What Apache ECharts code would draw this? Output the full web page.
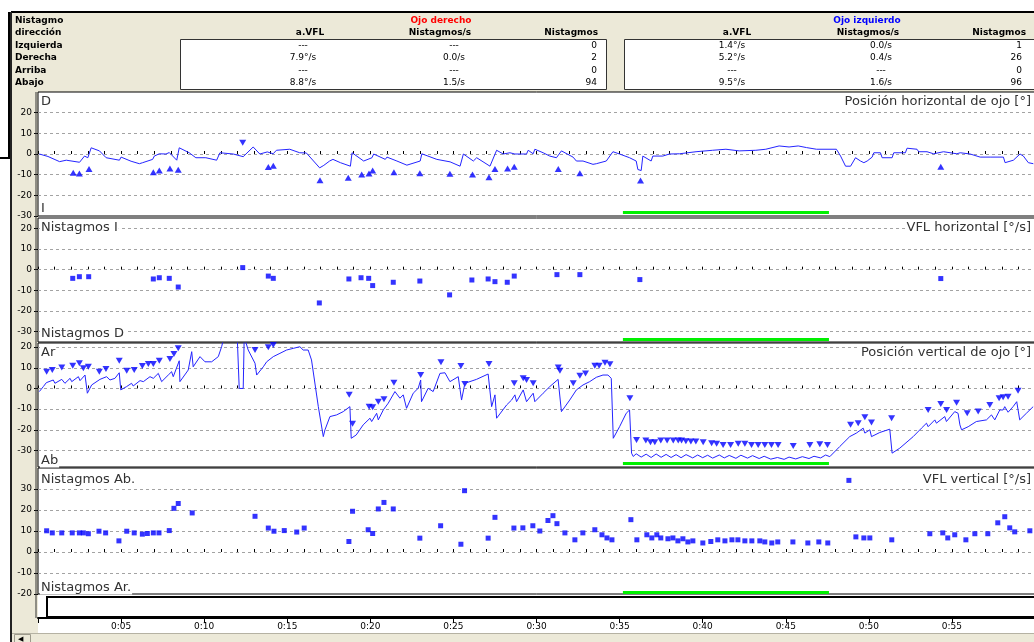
<!DOCTYPE html>
<html>
<head>
<meta charset="utf-8">
<script src="https://cdn.jsdelivr.net/npm/echarts@6.0.0/dist/echarts.min.js"></script>
<style>
  html, body { margin: 0; padding: 0; background: #fff; }
  #wrap { position: relative; width: 1034px; height: 642px; overflow: hidden; }
  .bg { position: absolute; background: #ece9d8; }
  #chart { position: absolute; left: 0; top: 0; width: 1034px; height: 642px; }
</style>
</head>
<body>
<div id="wrap">
  <div class="bg" style="left:12px;top:12px;width:1022px;height:80px"></div>
  <div class="bg" style="left:12px;top:92px;width:26px;height:550px"></div>
  <div class="bg" style="left:12px;top:633px;width:1022px;height:9px"></div>
  <div id="chart"></div>
</div>
<script>
// ---- table header ----
const rowLabels = ["Nistagmo", "dirección", "Izquierda", "Derecha", "Arriba", "Abajo"];
const rightAvfl = ["---", "7.9°/s", "---", "8.8°/s"];
const rightRate = ["---", "0.0/s", "---", "1.5/s"];
const rightCount = ["0", "2", "0", "94"];
const leftAvfl = ["1.4°/s", "5.2°/s", "---", "9.5°/s"];
const leftRate = ["0.0/s", "0.4/s", "---", "1.6/s"];
const leftCount = ["1", "26", "0", "96"];

// ---- axes ----
const yRanges = [[-30, 30], [-35, 25], [-38, 22], [-20, 40]];
const yTicks = [
  [-30, -20, -10, 0, 10, 20],
  [-30, -20, -10, 0, 10, 20],
  [-30, -20, -10, 0, 10, 20],
  [-20, -10, 0, 10, 20, 30]
];
const greenSpan = [35.2, 47.6];       // s
const greenLevel = [-28.4, -33.5, -36.3, -19];

// ---- panel 1: horizontal eye position [°] ----
const hPos = [[0.08,0],[0.6,-1.2],[1.3,-3.7],[1.7,-3],[2.5,-4],[2.8,-1],[3.0,-1.8],[3.2,3],[3.7,1.5],[4.1,-1.8],
  [4.9,-3],[5.0,-1.5],[5.6,-3.5],[6.1,-4.7],[6.3,-4.2],[6.9,-2.6],[7.0,-1],[7.3,0.1],[7.7,0],[7.9,0.7],
  [8.35,-3],[8.5,3],[9.1,0.6],[9.5,-1.8],[10.1,-1.8],[10.75,-3],[10.95,0.6],[11.75,0],[12.35,-1.3],[12.95,3.4],
  [13.35,0],[13.8,1],[14.15,0.1],[14.35,1.8],[15.15,2.3],[15.75,0.6],[16.15,0.5],[16.95,-6.7],[17.2,-5.5],[17.55,-3.4],
  [17.75,-2.6],[18.2,-4.2],[18.8,-5.9],[18.9,0.6],[19.6,-3.4],[20.1,-1.8],[20.2,0],[20.9,-2.6],[21.0,-1.5],[21.6,-3.4],
  [22.2,-5.4],[23.0,-3.4],[23.1,0.1],[24.0,-2.6],[24.8,-3.8],[25.4,-5.9],[25.6,0],[26.2,-3.4],[26.4,-1.8],[27.2,-5.9],
  [27.6,1.8],[28.0,0],[28.4,0.6],[28.7,0],[28.8,0.6],[29.4,0],[29.5,1.8],[29.8,0.1],[29.9,2.3],[30.4,0.6],
  [30.8,-1],[31.2,-1.8],[31.5,1.5],[32.2,-1.5],[32.4,-3.4],[32.8,-3.4],[33.4,-5],[33.6,-4.7],[34.2,-3.4],[34.6,1.1],
  [35.0,0],[35.6,-1.8],[36.0,-3.4],[36.1,-7.5],[36.3,-8],[36.4,-1],[36.9,-3.4],[37.0,-1],[37.6,-1],[38.0,0],
  [38.6,0.1],[39.6,1.1],[40.6,1.8],[41.4,2.3],[42.2,1.5],[43.2,1.8],[43.8,2.3],[44.6,3.9],[45.2,3.4],[45.75,3.9],
  [46.25,3.1],[46.85,2.3],[48.05,2.3],[48.3,-1],[48.6,-5.9],[48.9,-5.9],[49.2,-1.8],[49.5,-3.4],[49.7,-4.2],[49.9,-3.4],
  [50.2,-1.5],[50.3,0.6],[50.7,0.6],[50.8,-1.8],[51.4,-1.8],[51.5,0.6],[52.2,0.6],[52.3,2.8],[52.9,2.3],[53.0,1.1],
  [53.5,1.1],[53.9,0.1],[54.5,1.1],[55.3,0.1],[55.5,0.6],[56.1,0],[56.7,-1.5],[57.3,-1.5],[58.1,-1.5],[58.2,-4.2],
  [58.7,-3],[59.1,0],[59.3,-1],[59.6,-4.2],[59.9,-4.7]];
const hMarkUp = [[2.12,-9.1],[2.49,-9.4],[3.07,-7.3],[6.94,-8.8],[7.30,-8],[7.94,-7],[8.44,-7.6],[13.86,-6.3],[14.16,-5.7],
  [16.97,-12.7],[18.67,-11.5],[19.48,-9.9],[19.92,-9.4],[20.14,-8],[21.42,-8.8],[22.98,-9.3],[24.79,-9.6],[26.15,-9.9],
  [27.14,-11.2],[27.50,-7.2],[28.26,-7],[28.66,-6.2],[31.31,-7.2],[32.61,-9.3],[36.26,-12.8],[54.33,-6.2]];
const hMarkDown = [[12.32,5.5]];

// ---- panel 2: horizontal slow-phase velocity [°/s] ----
const hVfl = [[2.09,-4.2],[2.49,-3.4],[3.05,-3.4],[6.94,-4.5],[7.30,-3.9],[7.90,-4.2],[8.44,-8.4],[12.32,1.0],[13.86,-3.1],
  [14.16,-4.2],[16.93,-16.1],[18.71,-4.5],[19.44,-3.9],[19.90,-4.2],[20.14,-7.7],[21.38,-6.1],[22.98,-5.5],[24.77,-12.2],
  [26.11,-5.0],[27.09,-4.5],[27.50,-5.8],[28.24,-6.1],[28.66,-3.1],[31.23,-2.4],[32.61,-2.4],[36.22,-4.8],[54.33,-4.3]];

// ---- panel 3: vertical eye position [°] ----
const vPos = [[0.08,-1.5],[0.32,0.9],[0.5,2.8],[0.92,4.1],[1.02,2.5],[1.43,4.4],[1.62,2.5],[1.93,4.9],[2.03,3.3],[2.43,5.7],
  [2.53,3.8],[2.83,6.5],[2.97,-2.3],[3.23,1.7],[3.73,4.4],[4.13,5.7],[4.33,4.1],[4.63,4.9],[4.89,7.6],[4.98,-0.7],
  [5.33,0.9],[5.63,2.5],[5.73,1.2],[6.14,3.8],[6.34,3.3],[6.74,5.7],[6.94,4.9],[7.24,7.3],[7.44,3.3],[7.84,6.5],
  [8.04,8.1],[8.14,5.7],[8.5,13.4],[8.54,3.3],[9.04,8.9],[9.25,17.8],[9.34,10.5],[9.75,15.4],[10.05,12.9],[10.45,12.9],
  [10.85,15.4],[11.05,20.2],[11.2,25],[11.99,25],[12.11,0],[12.35,0],[12.41,25],[12.65,18.6],[13.06,12.2],[13.16,6.5],
  [13.56,10.5],[13.76,12.9],[14.16,15.4],[14.56,17],[14.96,18.6],[15.36,19.4],[15.76,20.2],[15.96,18.6],[16.26,18.6],[16.46,13.8],
  [16.87,-8.8],[17.17,-23.3],[17.27,-20],[17.57,-13.6],[17.97,-12.8],[18.37,-11.2],[18.77,-8.8],[18.85,-24.1],[19.15,-22.5],[19.57,-17.6],
  [19.98,-14.4],[20.08,-16],[20.38,-12],[20.48,-15.2],[20.78,-10.4],[21.08,-7.1],[21.48,-1.5],[21.78,-4.7],[21.98,-3.1],[22.18,-9.6],
  [22.58,-2.3],[22.88,0.1],[23.03,4.1],[23.08,-6.4],[23.48,0.1],[23.78,-1.5],[24.19,7.3],[24.49,7.6],[24.79,3.3],[25.29,5.7],
  [25.49,-5.6],[25.69,2.5],[26.39,4.4],[27.09,7],[27.3,-8.8],[27.5,-3.1],[27.6,-14.4],[28.2,-8],[28.5,-5.6],[28.7,-3.1],
  [28.8,-6.4],[29.2,-0.7],[29.4,-6.4],[29.8,-2.3],[29.9,-6.4],[30.4,-2.3],[30.8,0.9],[31.3,4.4],[31.5,-11.2],[32.0,-5.6],
  [32.4,-0.7],[32.8,1.7],[33.2,3.3],[33.6,5.4],[34.0,6.5],[34.3,6.5],[34.5,4.9],[34.62,-24.1],[35.0,-18.5],[35.4,-12],
  [35.6,-10.4],[35.72,-31.3],[35.82,-32.9],[36.0,-31.6],[36.3,-33.2],[36.6,-31.8],[36.9,-33.4],[37.2,-31.7],[37.5,-33.3],[37.8,-31.9],
  [38.1,-33.4],[38.4,-32.0],[38.7,-33.5],[39.0,-32.0],[39.4,-33.6],[39.7,-32.2],[40.0,-33.5],[40.3,-32.3],[40.6,-33.7],[41.0,-32.2],
  [41.3,-33.6],[41.6,-32.4],[42.0,-33.8],[42.3,-32.3],[42.7,-33.7],[43.0,-32.5],[43.4,-33.9],[43.7,-32.8],[44.1,-34.2],[44.5,-33.4],
  [44.9,-34.3],[45.2,-33.2],[45.6,-34.1],[46.0,-33.0],[46.4,-33.9],[46.7,-32.8],[47.1,-33.6],[47.4,-32.2],[47.65,-33.0],[48.25,-28.1],
  [48.85,-23.3],[49.25,-21.6],[49.66,-19.2],[49.76,-21.6],[50.06,-20],[50.16,-23.3],[50.66,-21.3],[51.26,-19.7],[51.4,-31.3],[51.86,-28.9],
  [52.67,-23.3],[53.17,-19.2],[53.47,-16.8],[53.57,-18.5],[53.97,-15.2],[54.07,-16.8],[54.57,-13.6],[54.67,-16],[55.17,-11.2],[55.37,-12],
  [55.48,-17.6],[55.58,-20],[55.98,-18.5],[56.47,-16],[57.08,-15.2],[57.38,-12.8],[57.58,-15.2],[57.88,-10.4],[58.08,-10.4],[58.18,-8.8],
  [58.38,-11.5],[58.68,-8.8],[58.9,-6.4],[59.08,-15.2],[59.48,-12],[59.89,-8.8]];
const vMarkDown = [[0.52,8.1],[0.86,8.9],[1.43,10.2],[2.09,11.0],[2.49,12.2],[2.73,9.8],[3.03,10.5],[3.69,8.1],[4.09,9.4],
  [4.89,13.4],[5.34,8.6],[5.79,8.9],[6.28,10.9],[6.64,11.8],[6.94,11.8],[7.30,13.4],[7.94,14.3],[8.18,16.7],[8.44,19.4],
  [13.06,18.6],[13.86,19.9],[14.16,21],[18.73,-3.1],[18.93,-17.1],[19.93,-8.8],[20.14,-9.1],[20.48,-6.4],[20.82,-5.2],
  [21.42,2.8],[23.03,6.5],[24.25,12.7],[25.45,10.9],[25.69,2.2],[27.14,11.8],[28.66,2.5],[29.20,4.9],[29.40,4.1],[29.80,2.5],
  [31.31,10.2],[31.41,8.6],[32.21,2.5],[32.61,6.2],[32.95,7.3],[33.51,11],[33.77,11],[34.12,12.5],[34.42,11.7],[35.62,-4.7],
  [36.02,-24.9],[36.58,-25.2],[36.86,-26],[37.12,-26],[37.48,-25.2],[37.86,-25.2],[38.23,-25.2],[38.53,-25.2],[38.73,-25.2],
  [38.99,-25.5],[39.29,-25.7],[39.59,-25.7],[40.03,-26],[40.54,-26.5],[40.84,-26.8],[41.23,-27.3],[41.68,-27.3],[42.14,-26.8],
  [42.54,-26.8],[42.94,-27.3],[43.34,-27.3],[43.74,-27.3],[44.14,-27.3],[44.54,-27.3],[45.45,-27.8],[46.45,-27.3],[47.05,-27.0],
  [47.51,-27.3],[48.90,-17.6],[49.36,-16.8],[49.76,-13.9],[50.16,-16.5],[51.37,-14.4],[53.57,-10.4],[54.33,-7.5],[54.68,-10.4],
  [55.28,-6.9],[55.92,-12],[56.58,-11.2],[57.28,-8],[57.84,-4.7],[58.08,-4.3],[58.38,-4],[58.98,-1.1]];

// ---- panel 4: vertical slow-phase velocity [°/s] ----
const vVfl = [[0.52,10.1],[0.86,9.1],[1.43,9.1],[2.06,9.1],[2.49,9.1],[2.73,9.1],[3.03,8.7],[3.67,9.9],[4.07,9.1],[4.87,5.3],
  [5.34,9.9],[5.79,9.1],[6.28,8.5],[6.58,8.8],[6.94,9.1],[7.28,9.1],[7.90,10.2],[8.18,20.8],[8.44,23.1],[9.28,18.6],
  [13.06,17],[13.86,11.4],[14.20,9.9],[14.82,10.2],[15.57,9.5],[16.02,11.4],[18.71,5],[18.93,19.4],[19.87,10.6],[20.14,8.8],
  [20.48,20.5],[20.82,23.6],[21.38,20.5],[22.98,6.6],[24.23,12.5],[25.45,3.7],[25.67,29.2],[27.09,6.6],[27.50,16.5],[28.64,11.4],
  [29.18,11.5],[29.78,12.5],[30.20,10],[30.69,15],[30.99,17.3],[31.23,13.5],[31.71,9.1],[32.31,5.8],[32.79,9.1],[33.51,10.6],
  [33.94,8.2],[34.24,6.7],[34.54,5.8],[35.68,15.4],[36.04,5.8],[36.64,8.2],[36.94,6.7],[37.24,8.2],[37.48,6.7],[37.91,6.3],
  [38.21,6.7],[38.51,5.3],[38.81,6.3],[39.11,4.8],[39.41,5.3],[40.01,4.3],[40.49,5.0],[40.91,5.8],[41.34,5.3],[41.76,5.8],
  [42.12,5.8],[42.54,5.3],[42.96,5.3],[43.44,5.3],[43.74,4.8],[44.16,4.3],[44.52,4.8],[45.43,4.8],[46.33,4.3],[46.99,4.8],
  [47.53,4.3],[48.80,34.1],[49.22,7.2],[49.70,6.7],[50.06,6.7],[51.38,5.8],[53.67,8.7],[54.45,9.1],[54.75,6.7],[55.17,8.2],
  [55.84,5.8],[56.38,8.7],[57.16,8.7],[57.76,13.9],[58.18,16.8],[58.48,11.5],[58.78,9.6],[59.69,10.1]];

const panelTitles = [
  ["D", "I", "Posición horizontal de ojo [°]"],
  ["Nistagmos I", "Nistagmos D", "VFL horizontal [°/s]"],
  ["Ar", "Ab", "Posición vertical de ojo [°]"],
  ["Nistagmos Ab.", "Nistagmos Ar.", "VFL vertical [°/s]"]
];

const panelBoxes = [[92, 124], [218, 124], [343, 124], [468, 126]];
const titleY = [[102, 208.5, 101.5], [227.5, 334, 228], [353, 461, 353], [479.5, 588, 479.5]];
const BLUE = "#0000ff";
const hdrBold = 'bold 9px "DejaVu Sans"';
const hdrReg = '9px "DejaVu Sans"';

const chart = echarts.init(document.getElementById("chart"));

function txt(text, x, y, font, align, fill, extra) {
  return {
    type: "text", x: x, y: y, z: 20, silent: true,
    style: Object.assign({
      text: text, font: font, fill: fill || "#000",
      textAlign: align || "left", align: align || "left",
      textVerticalAlign: "middle", verticalAlign: "middle"
    }, extra || {})
  };
}
function line(x1, y1, x2, y2, w, c) {
  return { type: "line", z: 15, silent: true, shape: { x1: x1, y1: y1, x2: x2, y2: y2 }, style: { stroke: c || "#000", lineWidth: w || 1 } };
}
function rect(x, y, w, h, fill, stroke, lw) {
  return { type: "rect", z: 12, silent: true, shape: { x: x, y: y, width: w, height: h }, style: { fill: fill, stroke: stroke, lineWidth: lw || 1 } };
}

const rowY = [20.5, 33, 45.5, 58, 70.5, 83];
const graphics = [];
// header frame
graphics.push(line(11, 12, 1034, 12, 2, "#000"));
graphics.push(line(11, 12, 11, 642, 2, "#222"));
graphics.push(line(9, 12, 9, 158, 2, "#000"));
graphics.push(line(0, 158, 10, 158, 2, "#000"));
graphics.push(rect(180.5, 39.5, 426, 50, "#fff", "#333", 1));
graphics.push(rect(624.5, 39.5, 420, 50, "#fff", "#333", 1));
rowLabels.forEach((t, i) => graphics.push(txt(t, 15, rowY[i], hdrBold)));
graphics.push(txt("Ojo derecho", 441, rowY[0], hdrBold, "center", "#ff0000"));
graphics.push(txt("Ojo izquierdo", 867, rowY[0], hdrBold, "center", "#0000ff"));
graphics.push(txt("a.VFL", 310, rowY[1], hdrBold, "center"));
graphics.push(txt("Nistagmos/s", 440, rowY[1], hdrBold, "center"));
graphics.push(txt("Nistagmos", 598, rowY[1], hdrBold, "right"));
graphics.push(txt("a.VFL", 737, rowY[1], hdrBold, "center"));
graphics.push(txt("Nistagmos/s", 868, rowY[1], hdrBold, "center"));
graphics.push(txt("Nistagmos", 1026, rowY[1], hdrBold, "right"));
for (let i = 0; i < 4; i++) {
  const y = rowY[i + 2];
  graphics.push(txt(rightAvfl[i], 303, y, hdrReg, "center"));
  graphics.push(txt(rightRate[i], 454, y, hdrReg, "center"));
  graphics.push(txt(rightCount[i], 597, y, hdrReg, "right"));
  graphics.push(txt(leftAvfl[i], 732, y, hdrReg, "center"));
  graphics.push(txt(leftRate[i], 881, y, hdrReg, "center"));
  graphics.push(txt(leftCount[i], 1022, y, hdrReg, "right"));
}
// panel captions
const capFont = '13px "DejaVu Sans"';
panelTitles.forEach((p, i) => {
  const bg = { backgroundColor: "#fff", padding: [0, 1] };
  graphics.push(txt(p[0], 40, titleY[i][0], capFont, "left", "#333", bg));
  graphics.push(txt(p[1], 40, titleY[i][1], capFont, "left", "#333", bg));
  graphics.push(txt(p[2], 1032, titleY[i][2], capFont, "right", "#333", bg));
});
graphics.push(line(36, 92, 36, 618, 1, "#333"));
// bottom white bar and scrollbar
graphics.push(rect(47, 597, 1000, 20, "#fff", "#000", 2));
graphics.push(line(12, 633.5, 1034, 633.5, 1, "#b5b2a3"));
graphics.push(rect(14.5, 634.5, 16, 8, "#ece9d8", "#9d9a8c", 1));
graphics.push(txt("◀", 18, 639, '7px "DejaVu Sans"', "left", "#000"));

function guides(p) {
  const d = yTicks[p].filter(v => v > yRanges[p][0]).map(v => ({
    yAxis: v, lineStyle: { color: "#a3a3a3", type: [3, 3], width: 1 }
  }));
  d.push([
    { coord: [greenSpan[0], greenLevel[p]], lineStyle: { color: "#00f000", width: 3, type: "solid" } },
    { coord: [greenSpan[1], greenLevel[p]] }
  ]);
  return { silent: true, z: 1, symbol: ["none", "none"], label: { show: false }, animation: false, data: d };
}

const grids = panelBoxes.map(b => ({
  left: 38, top: b[0], width: 997, height: b[1], show: true,
  backgroundColor: "#fff", borderColor: "#000", borderWidth: 1, outerBoundsMode: "none"
}));
grids.push({ left: 38, top: 597, width: 997, height: 21, show: false, outerBoundsMode: "none" });

const xAxes = panelBoxes.map((b, i) => ({
  gridIndex: i, type: "value", min: 0, max: 60, interval: 1,
  axisLine: { show: false }, axisLabel: { show: false }, splitLine: { show: false },
  axisTick: { show: true, inside: true, length: 3, lineStyle: { color: "#000" } }
}));
xAxes.push({
  gridIndex: 4, type: "value", min: 0, max: 60, interval: 5,
  axisLine: { show: true, lineStyle: { color: "#000", width: 2 } },
  axisTick: { show: true, length: 5, lineStyle: { color: "#000" } },
  splitLine: { show: false },
  axisLabel: {
    margin: 4, color: "#000", fontSize: 9, fontFamily: "DejaVu Sans",
    formatter: v => (v <= 0 || v >= 60) ? "" : "0:" + String(v).padStart(2, "0")
  }
});

const yAxes = yRanges.map((r, i) => ({
  gridIndex: i, type: "value", min: r[0], max: r[1],
  axisLine: { show: false }, splitLine: { show: false },
  axisTick: { show: true, length: 4, customValues: yTicks[i], lineStyle: { color: "#000" } },
  axisLabel: { customValues: yTicks[i], margin: 6, color: "#000", fontSize: 9, fontFamily: "DejaVu Sans" }
}));
yAxes.push({ gridIndex: 4, type: "value", min: 0, max: 1, show: false });

function lineSeries(idx, data) {
  return {
    type: "line", xAxisIndex: idx, yAxisIndex: idx, data: data, symbol: "none",
    lineStyle: { color: "#2424ff", width: 1 }, clip: true, markLine: guides(idx)
  };
}
function dots(idx, data, symbol, size, rotate, withGuides) {
  const s = {
    type: "scatter", xAxisIndex: idx, yAxisIndex: idx, data: data, symbol: symbol,
    symbolSize: size, symbolRotate: rotate || 0, itemStyle: { color: BLUE }, clip: true
  };
  if (withGuides) s.markLine = guides(idx);
  return s;
}

chart.setOption({
  animation: false,
  grid: grids,
  xAxis: xAxes,
  yAxis: yAxes,
  graphic: { elements: graphics },
  series: [
    lineSeries(0, hPos),
    dots(0, hMarkUp, "triangle", [7, 6]),
    dots(0, hMarkDown, "triangle", [7, 6], 180),
    dots(1, hVfl, "rect", 5, 0, true),
    lineSeries(2, vPos),
    dots(2, vMarkDown, "triangle", [7, 6], 180),
    dots(3, vVfl, "rect", 5, 0, true)
  ]
});
</script>
</body>
</html>
